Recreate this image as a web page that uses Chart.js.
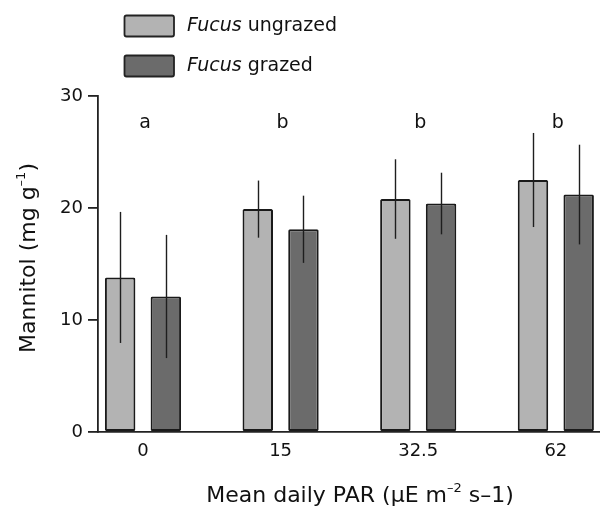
<!DOCTYPE html>
<html>
<head>
<meta charset="utf-8">
<script src="https://cdn.jsdelivr.net/npm/chart.js@4/dist/chart.umd.min.js"></script>
<style>
  html, body { margin: 0; padding: 0; background: #ffffff; }
  #wrap { width: 600px; height: 511px; position: relative; }
</style>
</head>
<body>
<div id="wrap"><canvas id="c" width="600" height="511"></canvas></div>
<script>
// ---- Data ----
const categories = ['0', '15', '32.5', '62'];
const ungrazed = [13.8, 19.9, 20.8, 22.5];
const ungrazedSD = [5.85, 2.55, 3.55, 4.2];
const grazed = [12.1, 18.1, 20.4, 21.2];
const grazedSD = [5.5, 3.0, 2.75, 4.45];
const letters = ['a', 'b', 'b', 'b'];
const seriesNames = ['ungrazed', 'grazed'];
const yTicks = [0, 10, 20, 30];

const FONT = "'DejaVu Sans', 'Liberation Sans', Arial, sans-serif";
const LIGHT = '#b3b3b3';
const DARK = '#6b6b6b';
const EDGE = '#1a1a1a';

const toPoints = arr => arr.map((v, i) => ({ x: i, y: v }));

const errorBars = {
  id: 'errorBars',
  afterDatasetsDraw(chart) {
    const ctx = chart.ctx;
    const y = chart.scales.y;
    ctx.save();
    ctx.strokeStyle = '#1e1e1e';
    ctx.lineWidth = 1.4;
    chart.data.datasets.forEach((ds, di) => {
      const meta = chart.getDatasetMeta(di);
      meta.data.forEach((bar, i) => {
        const m = ds.data[i].y, sd = ds.sd[i];
        const xp = Math.round(bar.x) + 0.5;
        ctx.beginPath();
        ctx.moveTo(xp, y.getPixelForValue(m + sd));
        ctx.lineTo(xp, y.getPixelForValue(m - sd));
        ctx.stroke();
      });
    });
    ctx.restore();
  }
};

function drawPieces(ctx, pieces, cx, cy) {
  let total = 0;
  pieces.forEach(p => { ctx.font = p.font; p.w = ctx.measureText(p.t).width; total += p.w; });
  let x = cx - total / 2;
  pieces.forEach(p => {
    ctx.font = p.font;
    ctx.fillText(p.t, x, cy + (p.dy || 0));
    x += p.w;
  });
}

const annotations = {
  id: 'annotations',
  afterDraw(chart) {
    const ctx = chart.ctx;
    const xs = chart.scales.x, ys = chart.scales.y;
    ctx.save();
    ctx.fillStyle = '#111';
    ctx.textBaseline = 'middle';
    ctx.textAlign = 'center';
    ctx.font = '19px ' + FONT;
    letters.forEach((l, i) => {
      ctx.fillText(l, xs.getPixelForValue(i) + 2, ys.getPixelForValue(27.6));
    });
    ctx.textAlign = 'left';
    const items = [{ c: LIGHT, name: seriesNames[0], y: 15 }, { c: DARK, name: seriesNames[1], y: 55 }];
    items.forEach(it => {
      ctx.fillStyle = it.c;
      ctx.strokeStyle = '#222';
      ctx.lineWidth = 1.8;
      ctx.beginPath();
      ctx.roundRect(124.5, it.y + 0.5, 49.5, 21, 2);
      ctx.fill();
      ctx.stroke();
      ctx.fillStyle = '#111';
      ctx.font = 'italic 19px ' + FONT;
      ctx.fillText('Fucus', 187, it.y + 11);
      const w = ctx.measureText('Fucus ').width;
      ctx.font = '19px ' + FONT;
      ctx.fillText(it.name, 187 + w, it.y + 11);
    });
    drawPieces(ctx, [
      { t: 'Mean daily PAR (µE m', font: '22px ' + FONT },
      { t: '–2', font: '13px ' + FONT, dy: -7 },
      { t: ' s–1)', font: '22px ' + FONT }
    ], 360, 496);
    ctx.save();
    ctx.translate(29, 258);
    ctx.rotate(-Math.PI / 2);
    drawPieces(ctx, [
      { t: 'Mannitol (mg g', font: '22px ' + FONT },
      { t: '–1', font: '13px ' + FONT, dy: -7 },
      { t: ')', font: '22px ' + FONT }
    ], 0, 0);
    ctx.restore();
    ctx.restore();
  }
};

new Chart(document.getElementById('c'), {
  type: 'bar',
  data: {
    datasets: [
      { label: seriesNames[0], data: toPoints(ungrazed), sd: ungrazedSD, backgroundColor: LIGHT,
        borderColor: EDGE, borderWidth: 2, borderRadius: 1.5, borderSkipped: false },
      { label: seriesNames[1], data: toPoints(grazed), sd: grazedSD, backgroundColor: DARK,
        borderColor: EDGE, borderWidth: 2, borderRadius: 1.5, borderSkipped: false }
    ]
  },
  options: {
    responsive: false,
    animation: false,
    categoryPercentage: 0.664,
    barPercentage: 0.667,
    layout: { padding: { top: 96, left: 0, right: 0, bottom: 0 } },
    plugins: { legend: { display: false }, tooltip: { enabled: false } },
    scales: {
      x: {
        type: 'linear',
        offset: false,
        min: -0.327,
        max: 3.321,
        afterBuildTicks(scale) { scale.ticks = categories.map((c, i) => ({ value: i })); },
        afterFit(scale) { scale.height = 79; },
        ticks: {
          callback: (v) => categories[v],
          font: { family: FONT, size: 18 },
          color: '#111',
          padding: 9,
          maxRotation: 0,
          autoSkip: false
        },
        grid: { display: false, drawTicks: false, offset: false },
        border: { display: true, color: '#222', width: 1.8 }
      },
      y: {
        min: 0,
        max: 30,
        afterBuildTicks(scale) { scale.ticks = yTicks.map(v => ({ value: v })); },
        afterFit(scale) { scale.width = 98; },
        ticks: {
          font: { family: FONT, size: 18 },
          color: '#111',
          padding: 5
        },
        grid: { display: true, drawOnChartArea: false, drawTicks: true, tickLength: 10, color: '#222', lineWidth: 1.8 },
        border: { display: true, color: '#222', width: 1.8 }
      }
    }
  },
  plugins: [errorBars, annotations]
});
</script>
</body>
</html>
